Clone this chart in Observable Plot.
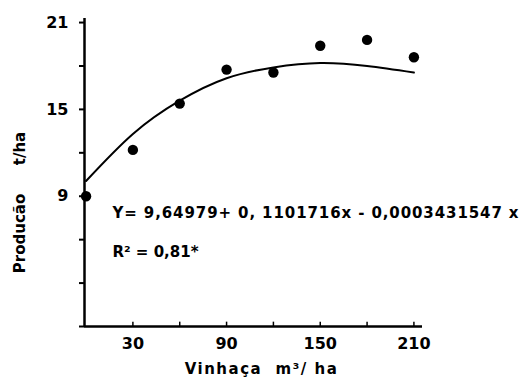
<!DOCTYPE html>
<html>
<head>
<meta charset="utf-8">
<script src="https://cdn.jsdelivr.net/npm/d3@7"></script>
<script src="https://cdn.jsdelivr.net/npm/@observablehq/plot@0.6"></script>
<style>
  body { margin: 0; background: #fff; }
  svg { font-family: "DejaVu Sans", sans-serif; }
</style>
</head>
<body>
<div id="chart"></div>
<script>
// Observed points (Vinhaça m³/ha vs Produção t/ha)
const doses = [0, 30, 60, 90, 120, 150, 180, 210];
const producao = [9.0, 12.2, 15.4, 17.75, 17.55, 19.4, 19.8, 18.6];
// Fitted curve at each dose
const curveX = [0, 30, 60, 90, 120, 150, 180, 210];
const curveY = [10.05, 13.3, 15.6, 17.15, 17.9, 18.2, 18.0, 17.55];
const yTicks = [0, 3, 6, 9, 12, 15, 18, 21];
const yTickLabels = {9: "9", 15: "15", 21: "21"};
const xTicks = [30, 60, 90, 120, 150, 180, 210];
const xTickLabels = {30: "30", 90: "90", 150: "150", 210: "210"};
const xLabel = "Vinhaça  m³/ ha";
const yLabelA = "Producão";
const yLabelB = "t/ha";
const equation = "Y= 9,64979+ 0, 1101716x - 0,0003431547 x";
const r2 = "R² = 0,81*";

const points = doses.map((d, i) => ({x: d, y: producao[i]}));
const curve = curveX.map((d, i) => ({x: d, y: curveY[i]}));
const xDomain = [-1, 215.5];

const chart = Plot.plot({
  width: 522,
  height: 378,
  marginLeft: 84,
  marginRight: 100,
  marginTop: 18,
  marginBottom: 52,
  style: {fontFamily: "DejaVu Sans, sans-serif", background: "#fff", color: "#000"},
  x: {domain: xDomain},
  y: {domain: [0, 21.28]},
  marks: [
    Plot.axisY({ticks: yTicks, tickSize: 5, tickPadding: 11, strokeWidth: 2,
      tickFormat: d => yTickLabels[d] ?? "", fontSize: 16, fontWeight: "bold", label: null}),
    Plot.axisX({ticks: xTicks, tickSize: 0, tickPadding: 11,
      tickFormat: d => xTickLabels[d] ?? "", fontSize: 16, fontWeight: "bold", label: null}),
    Plot.ruleX(xTicks, {y1: 0, y2: 0.3, strokeWidth: 1.5}),
    Plot.ruleX([xDomain[0]], {strokeWidth: 2.5}),
    Plot.ruleY([0], {strokeWidth: 2.5}),
    Plot.line(curve, {x: "x", y: "y", curve: "natural", strokeWidth: 2}),
    Plot.dot(points, {x: "x", y: "y", r: 5.2, fill: "black"}),
    Plot.text([equation], {frameAnchor: "left", dx: 28, dy: 41, textAnchor: "start", fontSize: 15, fontWeight: "bold"}),
    Plot.text([r2], {frameAnchor: "left", dx: 28, dy: 80, textAnchor: "start", fontSize: 15, fontWeight: "bold"}),
    Plot.text([xLabel], {frameAnchor: "bottom", dx: 8, dy: 47, fontSize: 15, fontWeight: "bold"}),
    Plot.text([yLabelA], {frameAnchor: "left", dx: -64, dy: 61, rotate: -90, textAnchor: "middle", fontSize: 15, fontWeight: "bold"}),
    Plot.text([yLabelB], {frameAnchor: "left", dx: -64, dy: -24, rotate: -90, textAnchor: "middle", fontSize: 15, fontWeight: "bold"})
  ]
});
const spacing = {[equation]: "0.9px", [xLabel]: "1.5px"};
d3.select(chart).selectAll("text").each(function() {
  const s = spacing[this.textContent];
  if (s) this.setAttribute("letter-spacing", s);
});
document.getElementById("chart").appendChild(chart);
</script>
</body>
</html>
